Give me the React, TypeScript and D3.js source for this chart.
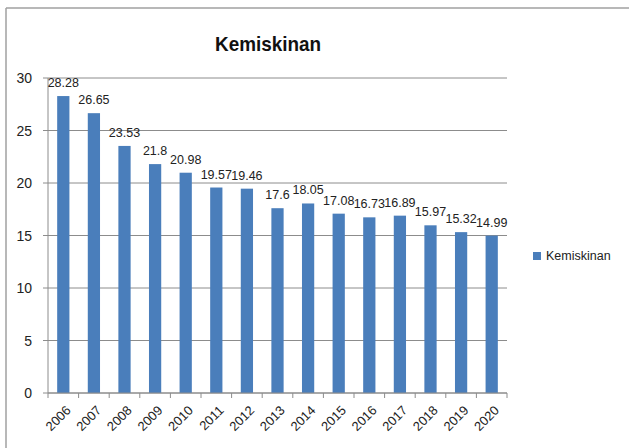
import React from "react";
import * as d3 from "d3";

const years = ["2006","2007","2008","2009","2010","2011","2012","2013","2014","2015","2016","2017","2018","2019","2020"];
const values = [28.28,26.65,23.53,21.8,20.98,19.57,19.46,17.6,18.05,17.08,16.73,16.89,15.97,15.32,14.99];
const yTicks = [0,5,10,15,20,25,30];
const seriesName = "Kemiskinan";
const title = "Kemiskinan";

export default function App() {
  const W = 629, H = 448;
  const left = 48, right = 507, top = 78, bottom = 393;
  const x = d3.scaleBand<string>().domain(years).range([left, right]).paddingInner(0.6).paddingOuter(0.3);
  const xb = d3.scaleBand<string>().domain(years).range([left, right]);
  const y = d3.scaleLinear().domain([0, 30]).range([bottom, top]);
  const font = "'Liberation Sans', Arial, sans-serif";
  const barColor = "#4a7ebb";
  return (
    <svg width={W} height={H} style={{ position: "absolute", left: 0, top: 0, background: "#fff" }} fontFamily={font}>
      <rect x={0} y={0} width={W} height={H} fill="#fff" />
      <line x1={6} y1={8} x2={W} y2={8} stroke="#a0a0a0" strokeWidth={1.5} />
      <line x1={6} y1={8} x2={6} y2={H} stroke="#a0a0a0" strokeWidth={1.5} />
      <text x={268} y={51} textAnchor="middle" fontSize={21} fontWeight="bold" fill="#111" textLength={106} lengthAdjust="spacingAndGlyphs">{title}</text>
      {yTicks.map(t => (
        <g key={t}>
          <line x1={left - 5} x2={right} y1={y(t)} y2={y(t)} stroke="#8c8c8c" strokeWidth={1} />
          <text x={32} y={y(t) + 5} textAnchor="end" fontSize={14} fill="#222">{t}</text>
        </g>
      ))}
      <line x1={left} x2={left} y1={top} y2={bottom} stroke="#8c8c8c" strokeWidth={1} />
      {years.map((yr, i) => (
        <rect key={yr} x={x(yr)} y={y(values[i])} width={x.bandwidth()} height={bottom - y(values[i])} fill={barColor} />
      ))}
      <line x1={left} x2={right} y1={bottom} y2={bottom} stroke="#8c8c8c" strokeWidth={1} />
      {years.concat(["end"]).map((yr, i) => {
        const px = left + i * xb.step();
        return <line key={"t" + i} x1={px} x2={px} y1={bottom} y2={bottom + 5} stroke="#8c8c8c" strokeWidth={1} />;
      })}
      {years.map((yr, i) => {
        const cx = (xb(yr) as number) + xb.bandwidth() / 2;
        return (
          <text key={"v" + yr} x={cx} y={y(values[i]) - 9} textAnchor="middle" fontSize={12.5} fill="#222">{values[i]}</text>
        );
      })}
      {years.map((yr) => {
        const cx = (xb(yr) as number) + xb.bandwidth() / 2 + 5;
        return (
          <text key={"x" + yr} transform={`translate(${cx},${bottom + 15}) rotate(-45)`} textAnchor="end" fontSize={13} fill="#222" dy="0.35em">{yr}</text>
        );
      })}
      <rect x={533} y={252} width={8} height={8} fill={barColor} />
      <text x={546} y={260} fontSize={12.5} fill="#222">{seriesName}</text>
    </svg>
  );
}
